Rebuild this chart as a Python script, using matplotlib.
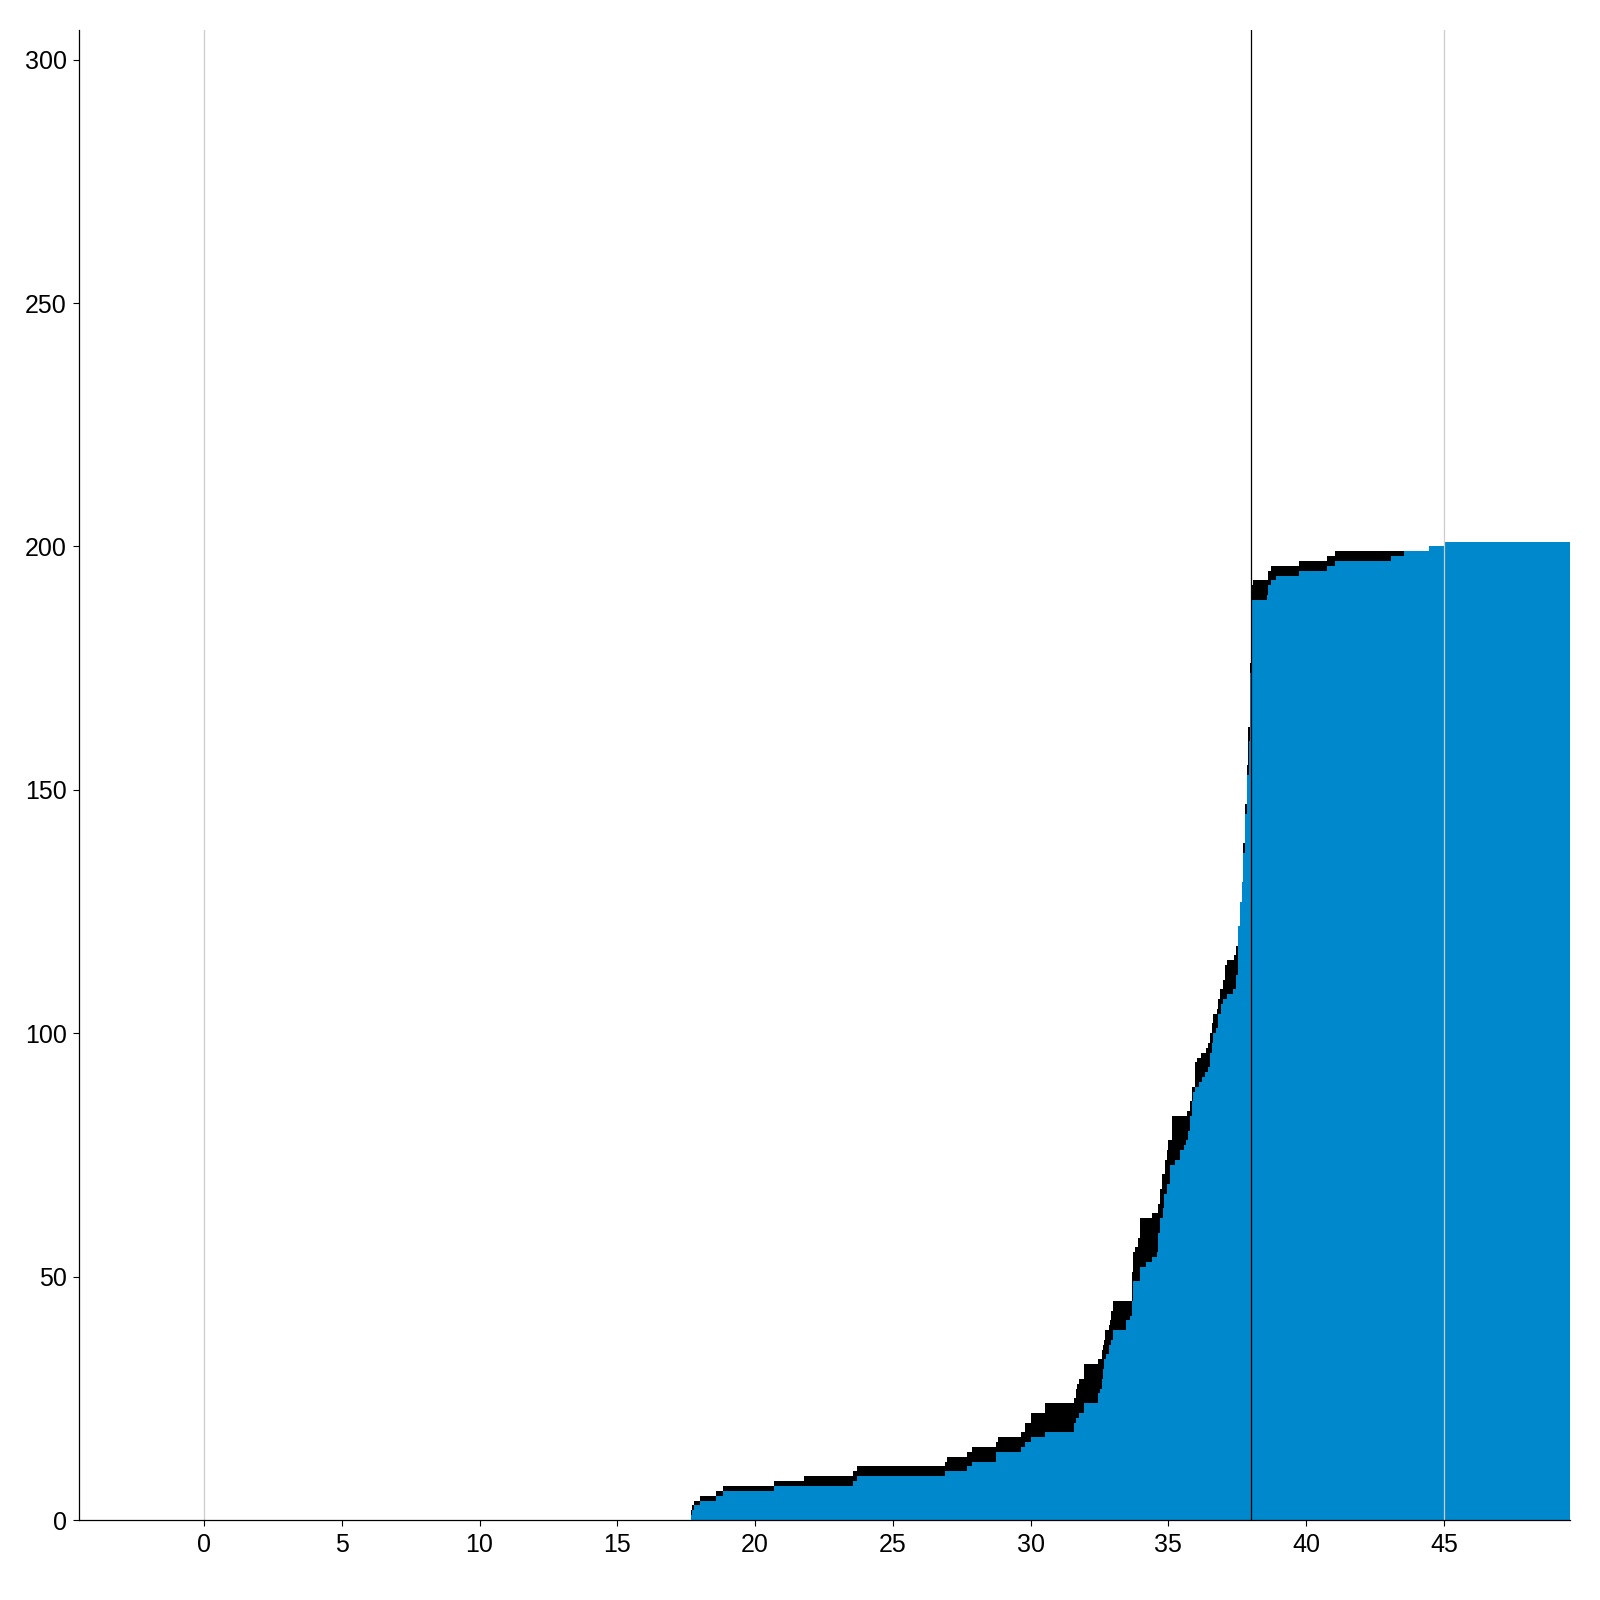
import matplotlib
matplotlib.use("Agg")
import matplotlib.pyplot as plt

# step edges: (day, cumulative count after the step)
blue_x = [17.68, 17.72, 17.79, 18.00, 18.58, 18.84, 20.69, 23.57, 23.69, 26.89,
          27.69, 27.88, 28.75, 29.65, 29.80, 30.02, 30.53, 31.58, 31.65, 31.76,
          31.94, 32.45, 32.52, 32.59, 32.62, 32.66, 32.74, 32.83, 32.91, 33.00,
          33.46, 33.61, 33.68, 33.73, 33.97, 34.19, 34.40, 34.58, 34.64, 34.70,
          34.80, 34.85, 34.94, 35.07, 35.25, 35.43, 35.58, 35.65, 35.70, 35.77,
          35.85, 35.89, 35.95, 36.10, 36.22, 36.34, 36.45, 36.51, 36.60, 36.63,
          36.73, 36.81, 36.90, 36.97, 37.14, 37.36, 37.46, 37.51, 37.54, 37.60,
          37.66, 37.72, 37.79, 37.85, 37.91, 37.97, 38.00, 38.57, 38.63, 38.73,
          38.91, 39.75, 40.75, 41.05, 43.09, 43.56, 44.46, 45.01]
blue_y = [1, 2, 3, 4, 5, 6, 7, 8, 9, 10,
          11, 12, 14, 15, 16, 17, 18, 20, 21, 22,
          24, 26, 27, 29, 31, 33, 34, 36, 37, 39,
          41, 42, 45, 49, 52, 53, 54, 55, 59, 62,
          64, 67, 69, 73, 74, 76, 77, 78, 80, 83,
          86, 88, 89, 90, 91, 92, 93, 96, 98, 100,
          101, 104, 106, 107, 108, 109, 112, 115, 122, 127,
          131, 137, 145, 153, 160, 174, 189, 190, 192, 193,
          194, 195, 196, 197, 198, 199, 200, 201]

black_x = [17.68, 17.72, 17.79, 18.00, 18.58, 18.84, 20.69, 21.78, 23.57, 23.69,
           26.89, 26.98, 27.69, 27.88, 28.75, 28.80, 29.65, 29.80, 30.02, 30.53,
           31.58, 31.65, 31.70, 31.76, 31.94, 32.45, 32.59, 32.63, 32.66, 32.71,
           32.83, 32.87, 32.91, 33.00, 33.67, 33.73, 33.79, 33.91, 33.97, 34.40,
           34.64, 34.70, 34.76, 34.88, 34.94, 35.00, 35.13, 35.67, 35.77, 35.85,
           35.95, 35.98, 36.04, 36.18, 36.36, 36.45, 36.51, 36.57, 36.63, 36.75,
           36.81, 36.88, 36.97, 37.06, 37.14, 37.39, 37.46, 37.54, 37.60, 37.66,
           37.70, 37.71, 37.78, 37.84, 37.90, 37.95, 37.99, 38.03, 38.08, 38.60,
           38.63, 38.73, 39.75, 40.75, 41.05, 43.56]
black_y = [2, 3, 4, 5, 6, 7, 8, 9, 10, 11,
           12, 13, 14, 15, 16, 17, 18, 20, 22, 24,
           25, 27, 28, 29, 32, 33, 35, 36, 37, 39,
           40, 41, 43, 45, 51, 55, 56, 58, 62, 63,
           65, 68, 71, 74, 76, 78, 83, 84, 86, 89,
           91, 94, 95, 96, 97, 98, 100, 102, 104, 105,
           107, 109, 111, 114, 115, 116, 118, 122, 127, 130,
           133, 139, 147, 155, 163, 176, 190, 192, 193, 194,
           195, 196, 197, 198, 199, 0]

ref_days = [0, 45]
cutoff_day = 38

x_ticks = [0, 5, 10, 15, 20, 25, 30, 35, 40, 45]
y_ticks = [0, 50, 100, 150, 200, 250, 300]

plt.rcParams['font.family'] = ['Liberation Sans', 'DejaVu Sans']

fig = plt.figure(figsize=(16, 16), dpi=100)
ax = fig.add_axes([0.0495, 0.05, 0.9315, 0.931])
ax.set_xlim(-4.53, 49.56)
ax.set_ylim(0, 306)

x_end = ax.get_xlim()[1]

ax.fill_between(black_x, black_y, step='post', color='black', linewidth=0, zorder=2)
ax.fill_between(blue_x + [x_end], blue_y + [blue_y[-1]], step='post',
                color='#0088cc', linewidth=0, zorder=3)

for d in ref_days:
    ax.axvline(d, color='#cccccc', linewidth=0.9, zorder=4)
ax.axvline(cutoff_day, color='black', linewidth=0.9, zorder=4)

ax.set_xticks(x_ticks)
ax.set_yticks(y_ticks)
ax.tick_params(labelsize=18, length=4, width=0.8, direction='out', pad=5)

for side in ['top', 'right']:
    ax.spines[side].set_visible(False)
for side in ['left', 'bottom']:
    ax.spines[side].set_linewidth(0.9)
    ax.spines[side].set_zorder(5)

fig.savefig('out.png', dpi=100)
